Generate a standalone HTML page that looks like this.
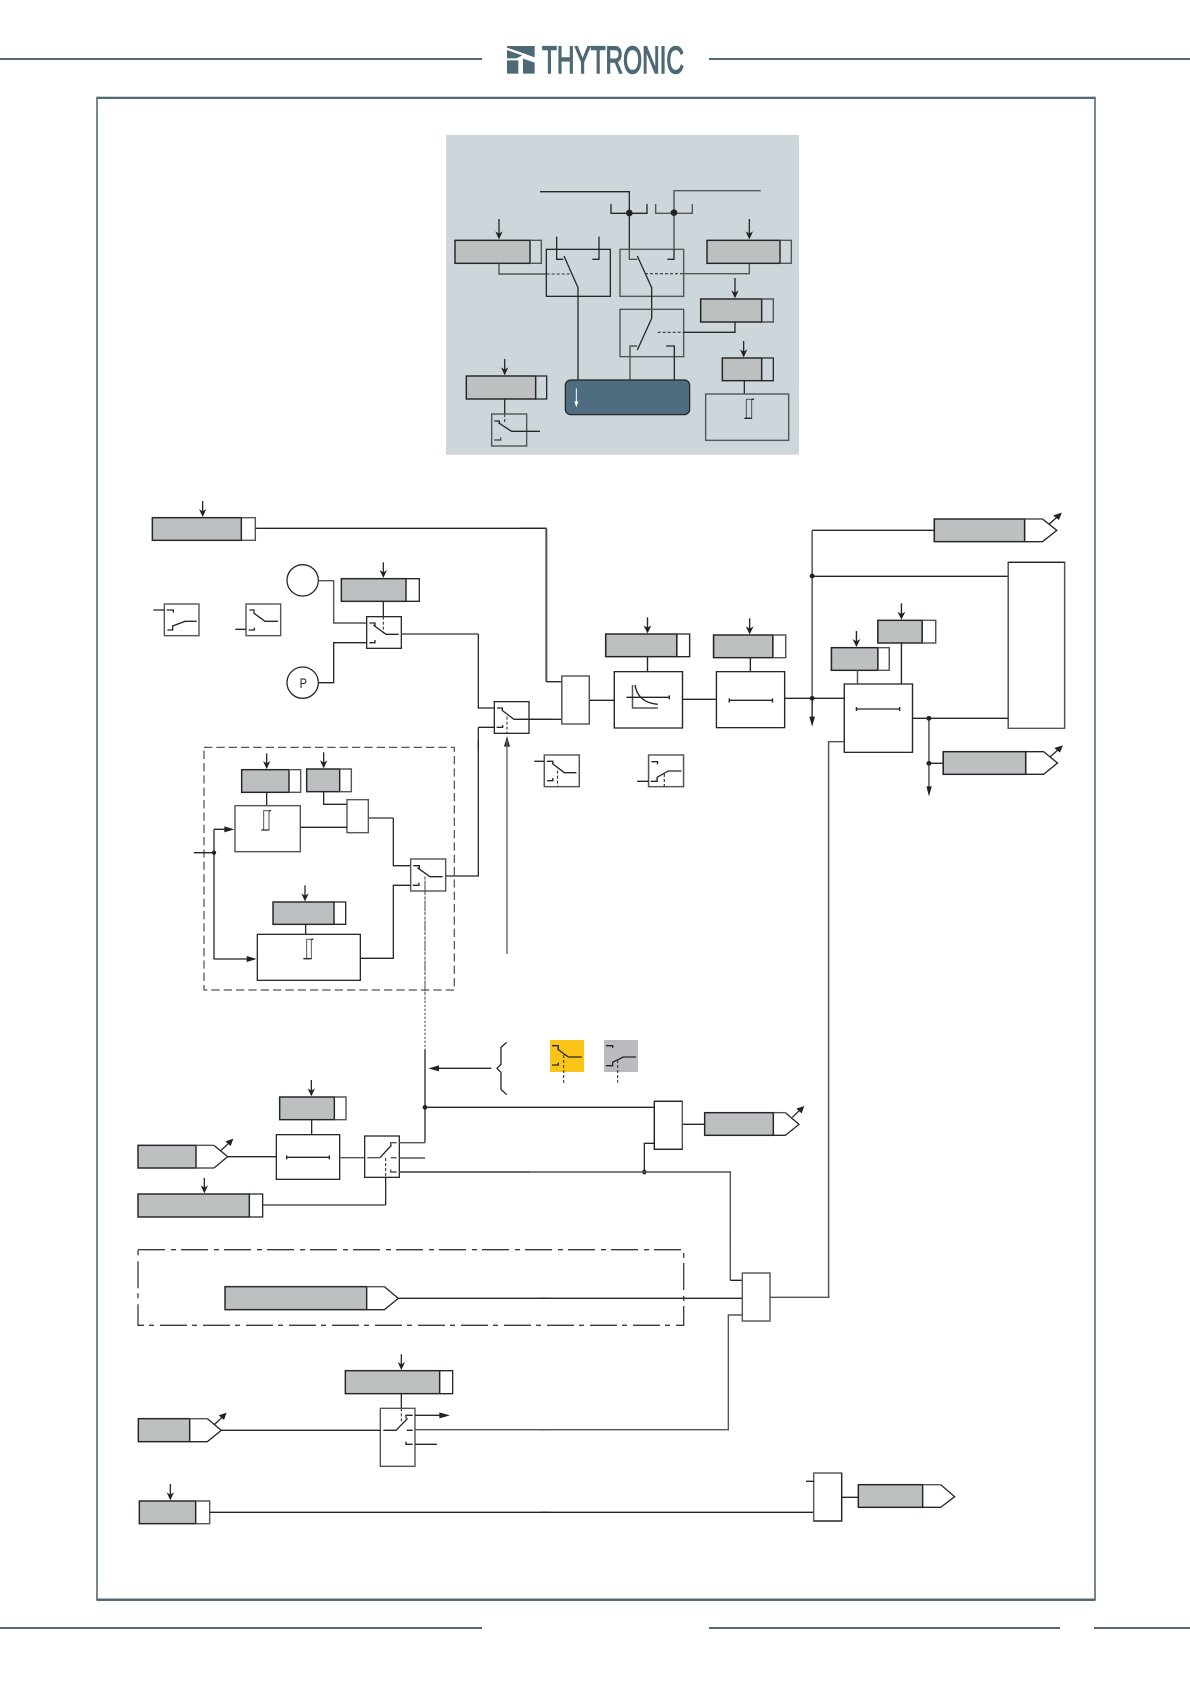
<!DOCTYPE html>
<html><head><meta charset="utf-8"><style>
html,body{margin:0;padding:0;background:#fff;width:1190px;height:1684px;overflow:hidden}
svg{display:block}
.l{fill:none;stroke:#262626;stroke-width:3.9}
.m{fill:none;stroke:#555;stroke-width:4.2}
.b{fill:#fff;stroke:#2a2a2a;stroke-width:3.9}
.n{fill:none;stroke:#262626;stroke-width:3.9}
.g{fill:#bcc0c0;stroke:#262626;stroke-width:4.4}
.w{fill:#fff;stroke:#444;stroke-width:3.2}
.t{fill:none;stroke:#333;stroke-width:3.2;stroke-dasharray:9 6}
.h{fill:#222;stroke:none}
</style></head><body>
<svg xmlns="http://www.w3.org/2000/svg" width="1190" height="1684" viewBox="0 0 1190 1684">
<rect width="1190" height="1684" fill="#fff"/>
<g fill="#566a75">
<rect x="0" y="58" width="482" height="2"/><rect x="709" y="58" width="481" height="2"/>
<rect x="0" y="1627" width="482" height="2"/><rect x="709" y="1627" width="351" height="2"/><rect x="1094" y="1627" width="96" height="2"/>
</g>
<rect x="97" y="97.5" width="998" height="1502" fill="none" stroke="#566a75" stroke-width="1.6"/>
<rect x="96.5" y="97" width="999" height="2" fill="#566a75"/>
<rect x="96.5" y="1598.5" width="999" height="2.5" fill="#566a75"/>
<g transform="translate(503,42) scale(.33333)" fill="#4f6875">
<polygon points="12,12 95,12 95,46 62,34 12,17"/>
<polygon points="12,24 58,40 40,49 12,49"/>
<rect x="12" y="55" width="34" height="40"/>
<polygon points="60,50 95,62 95,95 60,95"/>
</g>
<text x="542" y="73" font-family="'Liberation Sans',sans-serif" font-size="38" fill="#4f6875" stroke="#4f6875" stroke-width="1.4" textLength="142" lengthAdjust="spacingAndGlyphs">THYTRONIC</text>

<!-- top panel -->
<g transform="translate(430,120) scale(.33333)">
<rect x="48" y="45" width="1059" height="959" fill="#cdd6db"/>
<path class="l" d="M330,215H598V388M543,252V280H651V252"/>
<path class="m" d="M732,388V212H992M677,252V280H787V252"/>
<circle cx="598" cy="279" r="10" fill="#222"/><circle cx="732" cy="278" r="10" fill="#222"/>
<rect class="g" x="75" y="361" width="225" height="69"/><path class="m" d="M300,361H334V430H300"/>
<path class="l" d="M207,297V345"/><polygon class="h" points="207,358 196,334 207,341 218,334"/>
<path class="m" d="M207,430V462H350"/><path class="t" d="M350,462H420"/>
<rect class="n" x="349" y="388" width="192" height="141"/>
<path class="l" d="M380,350V418H400M507,350V418H487M402,408L444,503V780"/>
<rect class="m" x="570" y="388" width="191" height="141"/>
<path class="l" d="M732,388V418H712"/><path class="m" d="M598,388V418H622"/>
<path class="l" d="M622,408L665,503V595L622,690"/>
<path class="t" d="M645,461H761"/><path class="m" d="M761,461H958V430"/>
<rect class="g" x="831" y="361" width="219" height="69"/><path class="m" d="M1050,361H1084V430H1050"/>
<path class="l" d="M958,297V345"/><polygon class="h" points="958,358 947,334 958,341 969,334"/>
<rect class="m" x="570" y="568" width="191" height="142"/>
<path class="m" d="M600,780V678H622"/><path class="l" d="M733,780V678H708"/>
<path class="t" d="M683,637H761"/><path class="l" d="M761,637H915V606"/>
<rect class="g" x="812" y="537" width="183" height="69"/><path class="m" d="M995,537H1030V606H995"/>
<path class="l" d="M915,474V522"/><polygon class="h" points="915,535 904,511 915,518 926,511"/>
<rect class="g" x="877" y="714" width="118" height="68"/><path class="l" d="M995,714H1030V782H995"/>
<path class="l" d="M941,663V700"/><polygon class="h" points="941,712 930,688 941,695 952,688"/>
<path class="l" d="M943,782V822"/><rect class="m" x="827" y="822" width="249" height="139"/>
<rect x="949" y="838" width="16" height="57" fill="none" stroke="#555" stroke-width="3"/><path class="l" d="M965,838H972M943,895H965"/>
<rect class="g" x="109" y="768" width="208" height="69"/><path class="l" d="M317,768H350V837H317"/>
<path class="l" d="M224,717V754"/><polygon class="h" points="224,766 213,742 224,749 235,742"/>
<path class="l" d="M224,837V882"/><path class="t" d="M224,882V912"/>
<rect class="m" x="185" y="882" width="105" height="96"/>
<path class="l" d="M193,903H208V910M205,908L245,934H330"/><path class="m" d="M193,960H212V952"/>
<rect x="406" y="780" width="373" height="104" rx="16" fill="#4f6d80" stroke="#222" stroke-width="3.6"/>
<path d="M439,805V850" stroke="#fff" stroke-width="3" fill="none"/><polygon points="439,862 433,844 445,844" fill="#fff"/>
</g>

<!-- upper left -->
<g transform="translate(130,490) scale(.33333)">
<rect class="g" x="67" y="83" width="267" height="68"/><path class="m" d="M334,83H376V151H334"/>
<path class="l" d="M218,33V68"/><polygon class="h" points="218,81 207,57 218,64 229,57"/>
<path class="l" d="M376,115H1250"/><path class="m" d="M1250,115V575"/>
<circle cx="518" cy="271" r="47" class="n"/><circle cx="518" cy="578" r="47" class="n"/>
<text x="520" y="594" text-anchor="middle" font-family="'Liberation Sans',sans-serif" font-size="42" fill="#222" textLength="22" lengthAdjust="spacingAndGlyphs">P</text>
<path class="m" d="M566,272H611V399H710"/><path class="l" d="M566,578H611V458H710"/>
<rect class="g" x="634" y="266" width="194" height="68"/><path class="l" d="M828,266H868V334H828"/>
<path class="l" d="M760,217V252"/><polygon class="h" points="760,264 749,240 760,247 771,240"/>
<path class="l" d="M760,334V380"/><path class="t" d="M760,380V430"/>
<rect class="n" x="710" y="380" width="104" height="95"/>
<path class="l" d="M718,399H735V408M730,405L768,433H806M718,458H735V450"/>
<path class="m" d="M814,432H1045"/><path class="l" d="M1045,432V654H1093"/>
<rect class="m" x="103" y="342" width="104" height="95"/>
<path class="l" d="M70,360H103M110,360H130V368M112,420H128V408L165,394H200"/>
<rect class="m" x="348" y="342" width="104" height="95"/>
<path class="l" d="M316,418H348M358,360H372V370L405,394H444M356,420H373V413"/>
<rect class="n" x="1093" y="635" width="104" height="95"/>
<path class="l" d="M1101,654H1117V660M1115,660L1152,688H1190M1100,712H1118V705M1197,688H1260M1045,712H1093M1045,712V780"/>
<path class="t" d="M1131,680V730"/>
<polygon class="h" points="1131,738 1122,770 1140,770"/>
</g>

<!-- dashed group -->
<g transform="translate(180,740) scale(.33333)">
<path d="M981,0V642" stroke="#666" stroke-width="4.2" fill="none"/>
<rect x="72" y="22" width="751" height="728" fill="none" stroke="#555" stroke-width="3.8" stroke-dasharray="25 12"/>
<rect class="g" x="185" y="89" width="142" height="68"/><path class="m" d="M327,89H362V157H327"/>
<path class="l" d="M260,40V75"/><polygon class="h" points="260,87 249,63 260,70 271,63"/>
<path class="l" d="M260,157V197"/>
<rect class="m" x="165" y="197" width="196" height="138"/>
<rect x="251" y="212" width="16" height="58" fill="none" stroke="#555" stroke-width="3"/><path class="l" d="M267,212H273M244,270H267"/>
<rect class="g" x="380" y="87" width="99" height="68"/><path class="m" d="M479,87H514V155H479"/>
<path class="l" d="M431,37V73"/><polygon class="h" points="431,85 420,61 431,68 442,61"/>
<path class="l" d="M431,155V193H501"/>
<rect class="m" x="501" y="179" width="64" height="99"/>
<path class="l" d="M361,262H501"/><path class="m" d="M565,234H640"/><path class="l" d="M640,234V377H692"/>
<rect class="m" x="692" y="357" width="105" height="96" fill="#fff"/>
<path class="l" d="M700,377H718V385M712,383L750,410H788M698,436H717V428M797,408H895V0"/>
<path d="M735,410V780" fill="none" stroke="#444" stroke-width="3.2" stroke-dasharray="9 6"/>
<path class="l" d="M42,338H102M102,268V657H205M102,268H140"/>
<circle cx="102" cy="338" r="6.5" fill="#222"/>
<polygon class="h" points="163,268 133,259 133,277"/><polygon class="h" points="230,657 200,648 200,666"/>
<rect class="g" x="279" y="486" width="183" height="67"/><path class="l" d="M462,486H497V553H462"/>
<path class="l" d="M375,436V472"/><polygon class="h" points="375,484 364,460 375,467 386,460"/>
<path class="l" d="M377,553V583"/>
<rect class="n" x="232" y="583" width="309" height="138"/>
<rect x="380" y="598" width="14" height="58" fill="none" stroke="#555" stroke-width="3"/><path class="l" d="M394,598H400M370,656H394"/>
<path class="l" d="M541,655H640V436H692"/>
</g>

<!-- right upper -->
<g transform="translate(520,500) scale(.35714,.33333)">
<path class="l" d="M0,85H73"/><path class="m" d="M73,85V545"/><path class="l" d="M73,545H117M0,658H117M194,601H264"/>
<rect class="m" x="117" y="528" width="77" height="144"/>
<rect class="n" x="264" y="515" width="191" height="169"/>
<path class="m" d="M315,555V624H386"/><path class="l" d="M322,555Q330,608 386,613M298,592H418M418,586V598"/>
<rect class="g" x="240" y="402" width="199" height="68"/><path class="l" d="M439,402H475V470H439"/>
<path class="l" d="M357,352V388"/><polygon class="h" points="357,400 346,376 357,383 368,376"/>
<path class="l" d="M357,470V515M455,598H550"/>
<rect class="n" x="550" y="515" width="191" height="168"/>
<path class="l" d="M586,601H707M586,595V608M707,595V608"/>
<rect class="g" x="542" y="405" width="166" height="68"/><path class="m" d="M708,405H744V473H708"/>
<path class="l" d="M643,355V391"/><polygon class="h" points="643,403 632,379 643,386 654,379"/>
<path class="l" d="M645,473V515M741,595H908M818,91H1160M818,229H1367"/>
<path class="m" d="M818,91V595"/><path class="l" d="M818,595V655"/>
<polygon class="h" points="818,680 810,650 826,650"/>
<circle cx="818" cy="595" r="7" fill="#222"/><circle cx="818" cy="228" r="7" fill="#222"/>
<rect class="g" x="1160" y="57" width="253" height="68"/>
<path class="l" d="M1413,125H1463L1503,91L1463,57"/><path class="m" d="M1463,57H1413"/>
<path class="l" d="M1482,72L1505,50"/><polygon class="h" points="1517,38 1493,46 1509,60"/>
<rect class="m" x="1367" y="187" width="158" height="498"/>
<path class="n" d="M1367,187H1525"/>
<rect class="n" x="908" y="552" width="191" height="205"/>
<path class="l" d="M942,627H1063M942,621V633M1063,621V633"/>
<rect class="g" x="872" y="443" width="130" height="68"/><path class="m" d="M1002,443H1034V511H1002"/>
<path class="l" d="M942,393V429"/><polygon class="h" points="942,441 931,417 942,424 953,417"/>
<path class="m" d="M945,511V552"/>
<rect class="g" x="1002" y="361" width="124" height="68"/><path class="m" d="M1126,361H1164V429H1126"/>
<path class="l" d="M1068,310V347"/><polygon class="h" points="1068,359 1057,335 1068,342 1079,335"/>
<path class="l" d="M1068,429V552M1099,655H1367M1145,790H1185"/>
<path class="m" d="M1145,655V862"/>
<polygon class="h" points="1145,889 1138,859 1153,859"/>
<circle cx="1145" cy="655" r="7" fill="#222"/><circle cx="1145" cy="790" r="7" fill="#222"/>
<rect class="g" x="1185" y="755" width="231" height="68"/>
<path class="l" d="M1416,823H1466L1505,789L1466,755H1416"/>
<path class="l" d="M1485,770L1508,748"/><polygon class="h" points="1520,736 1496,744 1512,758"/>
<rect class="m" x="68" y="765" width="98" height="95"/>
<path class="l" d="M40,784H68M75,784H92V792M90,790L124,818H158M76,842H92V834"/>
<path class="t" d="M105,812V860"/>
<rect class="m" x="360" y="765" width="98" height="95"/>
<path class="l" d="M328,844H360M368,785H385V793M366,844H384V832L415,813H452"/>
<path class="t" d="M404,822V860"/>
<path class="m" d="M908,725H864V2391"/>
</g>

<!-- middle lower left -->
<g transform="translate(130,1030) scale(.33333)">
<path d="M885,-460V58" fill="none" stroke="#555" stroke-width="3.2" stroke-dasharray="7 5"/>
<path d="M885,58V338" fill="none" stroke="#555" stroke-width="5"/>
<rect class="g" x="24" y="346" width="174" height="68"/>
<path class="m" d="M198,346H252"/><path class="l" d="M252,346L293,380L252,414"/><path class="m" d="M252,414H198"/>
<path class="l" d="M272,362L298,338"/><polygon class="h" points="310,326 286,334 302,348"/>
<path class="l" d="M293,380H439"/>
<rect class="n" x="439" y="314" width="190" height="134"/>
<path class="l" d="M470,382H598M470,376V388M598,376V388"/>
<rect class="g" x="449" y="201" width="164" height="68"/><path class="m" d="M613,201H648V269H613"/>
<path class="l" d="M544,150V187"/><polygon class="h" points="544,199 533,175 544,182 555,175"/>
<path class="l" d="M545,269V314"/>
<path class="m" d="M629,383H704"/>
<rect class="n" x="704" y="318" width="104" height="124"/>
<path class="l" d="M750,383L785,345"/><path class="m" d="M712,383H750M782,350V338H800M782,383H800M782,418V426H800M808,338H885M808,384H885M808,426H1200M398,525H767"/>
<path class="t" d="M767,384V440"/><path class="l" d="M767,440V525"/>
<rect class="g" x="24" y="492" width="334" height="69"/><path class="l" d="M358,492H398V561H358"/>
<path class="l" d="M223,444V478"/><polygon class="h" points="223,490 212,466 223,473 234,466"/>
<circle cx="885" cy="232" r="7" fill="#222"/>
<path class="l" d="M925,115H1084M1130,37L1113,52V103L1101,115L1113,127V178L1130,194"/>
<polygon class="h" points="895,115 927,106 927,124"/>
</g>

<g transform="translate(400,1030) scale(.33333)">
<rect x="450" y="30" width="102" height="96" fill="#fcc419"/>
<path class="l" d="M456,47H475V57M472,57L505,81H546M456,105H475V98"/>
<path class="t" d="M491,75V160"/>
<rect x="612" y="30" width="102" height="96" fill="#b9bbbe"/>
<path class="l" d="M618,47H638V54M618,107H638V97L670,81H708"/>
<path class="t" d="M653,90V158"/>
<path class="l" d="M75,232H763M733,426V340H763M847,283H914"/>
<rect class="m" x="763" y="214" width="84" height="144"/><path class="l" d="M763,214H847M763,214V358H847"/>
<rect class="g" x="914" y="248" width="206" height="68"/>
<path class="l" d="M1120,316H1156L1197,283L1156,248"/><path class="m" d="M1156,248H1120"/>
<path class="l" d="M1177,262L1202,238"/><polygon class="h" points="1213,228 1189,236 1205,250"/>
<circle cx="733" cy="426" r="7" fill="#222"/>
<path class="m" d="M0,426H991V632"/>
</g>

<!-- dash-dot box -->
<rect x="138" y="1249.7" width="545.7" height="75.6" fill="none" stroke="#3a3a3a" stroke-width="1.3" stroke-dasharray="27 6 5 5"/>

<g transform="translate(130,1240) scale(.33333)">
<rect class="g" x="285" y="140" width="425" height="69"/>
<path class="m" d="M710,140H763"/><path class="l" d="M763,140L805,175L763,209H710M805,175H1260"/>
<rect class="g" x="646" y="392" width="283" height="69"/><path class="l" d="M929,392H968V461H929"/>
<path class="l" d="M814,343V378"/><polygon class="h" points="814,390 803,366 814,373 825,366"/>
<path class="l" d="M814,461V505"/><path class="t" d="M814,505V545"/>
<rect class="m" x="751" y="505" width="104" height="174"/>
<path class="l" d="M275,571H751M760,571H798L833,535M828,535V526H848M830,571H848M828,605V613H848M855,526H932M855,613H921"/>
<polygon class="h" points="960,526 928,517 928,535"/>
<path class="m" d="M855,569H1260"/>
<rect class="g" x="25" y="536" width="154" height="69"/>
<path class="m" d="M179,536H232"/><path class="l" d="M232,536L274,571L232,605H179"/>
<path class="l" d="M252,555L278,530"/><polygon class="h" points="290,518 266,526 282,540"/>
<rect class="g" x="28" y="783" width="169" height="68"/><path class="m" d="M197,783H239V851H197"/>
<path class="l" d="M121,732V769"/><polygon class="h" points="121,781 110,757 121,764 132,757"/>
<path class="l" d="M239,817H1260"/>
</g>

<g transform="translate(540,1240) scale(.33333)">
<path class="m" d="M571,-4V121"/><path class="l" d="M571,121H607M0,175H607M0,817H821"/>
<path class="m" d="M0,569H565V225H607"/>
<rect class="m" x="607" y="99" width="83" height="144"/>
<path class="m" d="M690,172H869"/>
<rect class="m" x="821" y="699" width="84" height="144"/><path class="l" d="M905,699V843H821"/>
<path class="l" d="M798,724H821M905,772H955"/>
<rect class="g" x="955" y="734" width="193" height="68"/>
<path class="m" d="M1148,734H1202"/><path class="l" d="M1202,734L1244,770L1202,802H1148"/>
</g>
</svg>
</body></html>
